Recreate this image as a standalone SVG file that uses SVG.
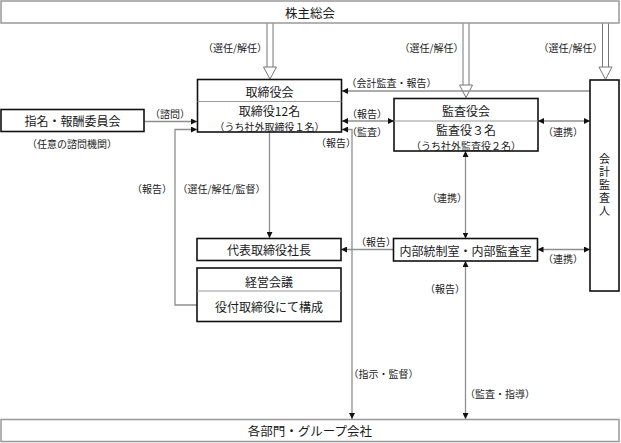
<svg xmlns="http://www.w3.org/2000/svg" width="621" height="443" viewBox="0 0 621 443">
<style>
text{font-family:"Noto Sans CJK JP","Noto Sans",sans-serif;fill:#1a1a1a;text-anchor:middle;dominant-baseline:central}
.m{font-size:12px}
.v{font-size:11px;writing-mode:vertical-rl;letter-spacing:2px}
.s{font-size:10px}
.t{font-size:12.5px}
.box{fill:#fff;stroke:#111;stroke-width:1.6}
.gbox{fill:#fff;stroke:#999;stroke-width:1.5}
.div{stroke:#999;stroke-width:1}
.c{fill:none;stroke:#8f8f8f;stroke-width:1.3}
.ha{fill:none;stroke:#777;stroke-width:1}
.hh{fill:#fff;stroke:#777;stroke-width:1}
</style>
<defs>
<marker id="a" markerUnits="userSpaceOnUse" markerWidth="6" markerHeight="6" refX="6" refY="3" orient="auto-start-reverse" viewBox="0 0 6 6">
<path d="M0,0 L6,3 L0,6 z" fill="#111"/>
</marker>
</defs>

<g id="connectors">
<path class="ha" d="M267,23 V67 M273,23 V67"/>
<polygon class="hh" points="263.5,67 276.5,67 270,79"/>
<path class="ha" d="M463,23 V85 M469,23 V85"/>
<polygon class="hh" points="459.5,85 472.5,85 466,97.5"/>
<path class="ha" d="M602.5,23 V67 M608.5,23 V67"/>
<polygon class="hh" points="599,67 612,67 605.5,79.5"/>

<line class="c" x1="144" y1="121.5" x2="197" y2="121.5" marker-end="url(#a)"/>
<polyline class="c" points="197,305 175,305 175,129.5 197,129.5" marker-end="url(#a)"/>
<line class="c" x1="269.5" y1="132" x2="269.5" y2="238" marker-end="url(#a)"/>
<line class="c" x1="590" y1="91" x2="342" y2="91" marker-end="url(#a)"/>
<line class="c" x1="342" y1="121" x2="394" y2="121" marker-start="url(#a)" marker-end="url(#a)"/>
<polyline class="c" points="342,129.5 352,129.5 352,419" marker-start="url(#a)" marker-end="url(#a)"/>
<line class="c" x1="538" y1="121" x2="590" y2="121" marker-start="url(#a)" marker-end="url(#a)"/>
<line class="c" x1="465.5" y1="151" x2="465.5" y2="238.5" marker-start="url(#a)" marker-end="url(#a)"/>
<line class="c" x1="537.5" y1="249.5" x2="590" y2="249.5" marker-start="url(#a)" marker-end="url(#a)"/>
<line class="c" x1="393.5" y1="249.5" x2="341" y2="249.5" marker-end="url(#a)"/>
<line class="c" x1="465.5" y1="261" x2="465.5" y2="419" marker-start="url(#a)" marker-end="url(#a)"/>
</g>

<g id="labels">
<text class="s" x="235" y="47">（選任/解任）</text>
<text class="s" x="431.5" y="47">（選任/解任）</text>
<text class="s" x="570.5" y="47">（選任/解任）</text>
<text class="s" x="391.5" y="82">（会計監査・報告）</text>
<text class="s" x="170" y="113">（諮問）</text>
<text class="s" x="367" y="113">（報告）</text>
<text class="s" x="367" y="131">（監査）</text>
<text class="s" x="336" y="142">（報告）</text>
<text class="s" x="563" y="131.5">（連携）</text>
<text class="s" x="72" y="143">（任意の諮問機関）</text>
<text class="s" x="152" y="188">（報告）</text>
<text class="s" x="221.5" y="188">（選任/解任/監督）</text>
<text class="s" x="447" y="197">（連携）</text>
<text class="s" x="376" y="241">（報告）</text>
<text class="s" x="563" y="258.5">（連携）</text>
<text class="s" x="445" y="288">（報告）</text>
<text class="s" x="383.5" y="373">（指示・監督）</text>
<text class="s" x="500" y="393">（監査・指導）</text>
</g>

<g id="shareholders">
<rect class="gbox" x="1" y="1" width="618" height="22"/>
<text class="t" x="310" y="12.5">株主総会</text>
</g>

<g id="board">
<rect class="box" x="197.5" y="79.5" width="144" height="52.5"/>
<line class="div" x1="197.5" y1="101.5" x2="341.5" y2="101.5"/>
<text class="m" x="269.5" y="91">取締役会</text>
<text class="m" x="269.5" y="110">取締役12名</text>
<text class="s" x="269.5" y="126">（うち社外取締役１名）</text>
</g>

<g id="nomination">
<rect class="box" x="1" y="109.5" width="143" height="22"/>
<text class="m" x="72.5" y="120.5">指名・報酬委員会</text>
</g>

<g id="auditors">
<rect class="box" x="394" y="98.5" width="144" height="52.5"/>
<line class="div" x1="394" y1="121" x2="538" y2="121"/>
<text class="m" x="466" y="110">監査役会</text>
<text class="m" x="466" y="129.5">監査役３名</text>
<text class="s" x="466" y="145.5">（うち社外監査役２名）</text>
</g>

<g id="accounting-auditor">
<rect class="box" x="590" y="80" width="29" height="211"/>
<text class="v" x="604.5" y="186">会計監査人</text>
</g>

<g id="president">
<rect class="box" x="197" y="238.5" width="144" height="22"/>
<text class="m" x="269" y="249.5">代表取締役社長</text>
</g>

<g id="management">
<rect class="box" x="197" y="268" width="144" height="53.5"/>
<line class="div" x1="197" y1="291" x2="341" y2="291"/>
<text class="m" x="269" y="281">経営会議</text>
<text class="m" x="269" y="306.5">役付取締役にて構成</text>
</g>

<g id="internal-audit">
<rect class="box" x="393.5" y="238.5" width="144" height="22.5"/>
<text class="m" x="465.5" y="250">内部統制室・内部監査室</text>
</g>

<g id="divisions">
<rect class="gbox" x="1" y="419.5" width="618" height="22"/>
<text class="t" x="310" y="430.5">各部門・グループ会社</text>
</g>
</svg>
